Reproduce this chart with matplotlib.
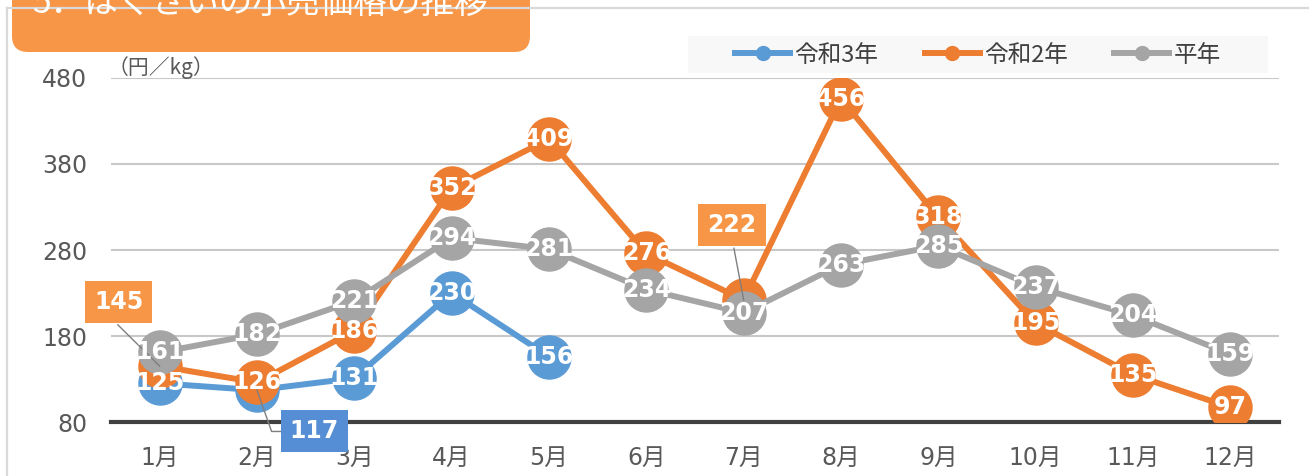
import matplotlib.pyplot as plt
from matplotlib.lines import Line2D
from matplotlib.patches import FancyBboxPatch, Rectangle
from matplotlib.transforms import IdentityTransform

months = ['1月', '2月', '3月', '4月', '5月', '6月', '7月', '8月', '9月', '10月', '11月', '12月']
r3 = [125, 117, 131, 230, 156]
r2 = [145, 126, 186, 352, 409, 276, 222, 456, 318, 195, 135, 97]
heinen = [161, 182, 221, 294, 281, 234, 207, 263, 285, 237, 204, 159]
yticks = [80, 180, 280, 380, 480]

blue = '#5B9BD5'
orange = '#ED7D31'
gray = '#A5A5A5'
jp = ['Noto Sans CJK JP', 'DejaVu Sans']
num = ['DejaVu Sans', 'Noto Sans CJK JP']

fig = plt.figure(figsize=(13.09, 4.76), dpi=100)

# outer chart frame (only top/left visible)
fig.add_artist(Line2D([7 / 1309, 7 / 1309], [0, 1 - 8 / 476], transform=fig.transFigure, color='#D9D9D9', lw=1.6))
fig.add_artist(Line2D([7 / 1309, 1], [1 - 8 / 476, 1 - 8 / 476], transform=fig.transFigure, color='#D9D9D9', lw=1.6))

ax = fig.add_axes([111 / 1309, 1 - 422 / 476, (1279 - 111) / 1309, (422 - 78) / 476])

x = list(range(len(months)))
ax.plot(x[:len(r3)], r3, color=blue, lw=4.3, marker='o', ms=31, zorder=4)
ax.plot(x, r2, color=orange, lw=4.3, marker='o', ms=31, zorder=5)
ax.plot(x, heinen, color=gray, lw=4.3, marker='o', ms=31, zorder=6)

# inline data labels
callouts = {('r3', 1), ('r2', 0), ('r2', 6)}
for name, vals in [('r3', r3), ('r2', r2), ('h', heinen)]:
    for i, v in enumerate(vals):
        if (name, i) in callouts:
            continue
        ax.text(i, v, str(v), ha='center', va='center', color='white', fontsize=17,
                fontweight='bold', family=num, zorder=10)

# callout labels with leader lines
box_kw = dict(ha='center', va='center', color='white', fontsize=17, fontweight='bold', family=num, zorder=11)
ax.text(-0.42, 219, str(r2[0]), bbox=dict(boxstyle='square,pad=0.38', fc='#F79646', ec='none'), clip_on=False, **box_kw)
ax.plot([-0.43, 0], [193, r2[0]], color='#7F7F7F', lw=1, zorder=9, clip_on=False)

ax.text(1.59, 69, str(r3[1]), bbox=dict(boxstyle='square,pad=0.38', fc='#558ED5', ec='none'), clip_on=False, **box_kw)
ax.plot([1, 1.15, 1.27], [r3[1], 69, 69], color='#7F7F7F', lw=1, zorder=9, clip_on=False)

ax.text(5.88, 309, str(r2[6]), bbox=dict(boxstyle='square,pad=0.38', fc='#F79646', ec='none'), clip_on=False, **box_kw)
ax.plot([5.9, 6], [282, r2[6]], color='#7F7F7F', lw=1, zorder=9, clip_on=False)

ax.set_xlim(-0.5, len(months) - 0.5)
ax.set_ylim(80, 480)
ax.set_xticks(x)
ax.set_xticklabels(months, family=num, fontsize=17, color='#595959')
ax.set_yticks(yticks)
ax.set_yticklabels([str(t) for t in yticks], family=num, fontsize=17, color='#595959')
ax.tick_params(length=0)
ax.tick_params(axis='y', pad=17)
ax.tick_params(axis='x', pad=17)
ax.grid(axis='y', color='#C8C8C8', lw=1.5)
ax.set_axisbelow(True)
for s in ['top', 'right', 'left']:
    ax.spines[s].set_visible(False)
ax.spines['bottom'].set_color('#404040')
ax.spines['bottom'].set_linewidth(3)
ax.spines['bottom'].set_zorder(3)

ax.text(108 / 1309, 1 - 68 / 476, '（円／kg）', transform=fig.transFigure, family=jp, fontsize=15,
        color='#595959', ha='left', va='center')

# legend background and legend
fig.add_artist(Rectangle((688 / 1309, 1 - 73 / 476), 580 / 1309, 37 / 476, transform=fig.transFigure,
                         fc='#F8F8F8', ec='none', zorder=1))
handles = [Line2D([], [], color=c, lw=4.3, marker='o', ms=10) for c in [blue, orange, gray]]
leg = fig.legend(handles, ['令和3年', '令和2年', '平年'], loc='center left', ncol=3,
                 bbox_to_anchor=(735 / 1309, 1 - 55 / 476), prop={'family': jp, 'size': 17},
                 frameon=False, handlelength=2.35, handletextpad=0.17, columnspacing=1.95,
                 borderaxespad=0, borderpad=0)
leg.set_zorder(2)
for t in leg.get_texts():
    t.set_color('#404040')

# title box, cut off at the top
fig.add_artist(FancyBboxPatch((12, 476 - 52), 518, 90, boxstyle='round,pad=0,rounding_size=16',
                              transform=IdentityTransform(), fc='#F79646', ec='none'))
fig.text(32 / 1309, 1 - 13 / 476, '5．はくさいの小売価格の推移', family=jp, fontsize=24.2, color='white',
         ha='left', va='baseline')

fig.savefig('out.png', dpi=100)
